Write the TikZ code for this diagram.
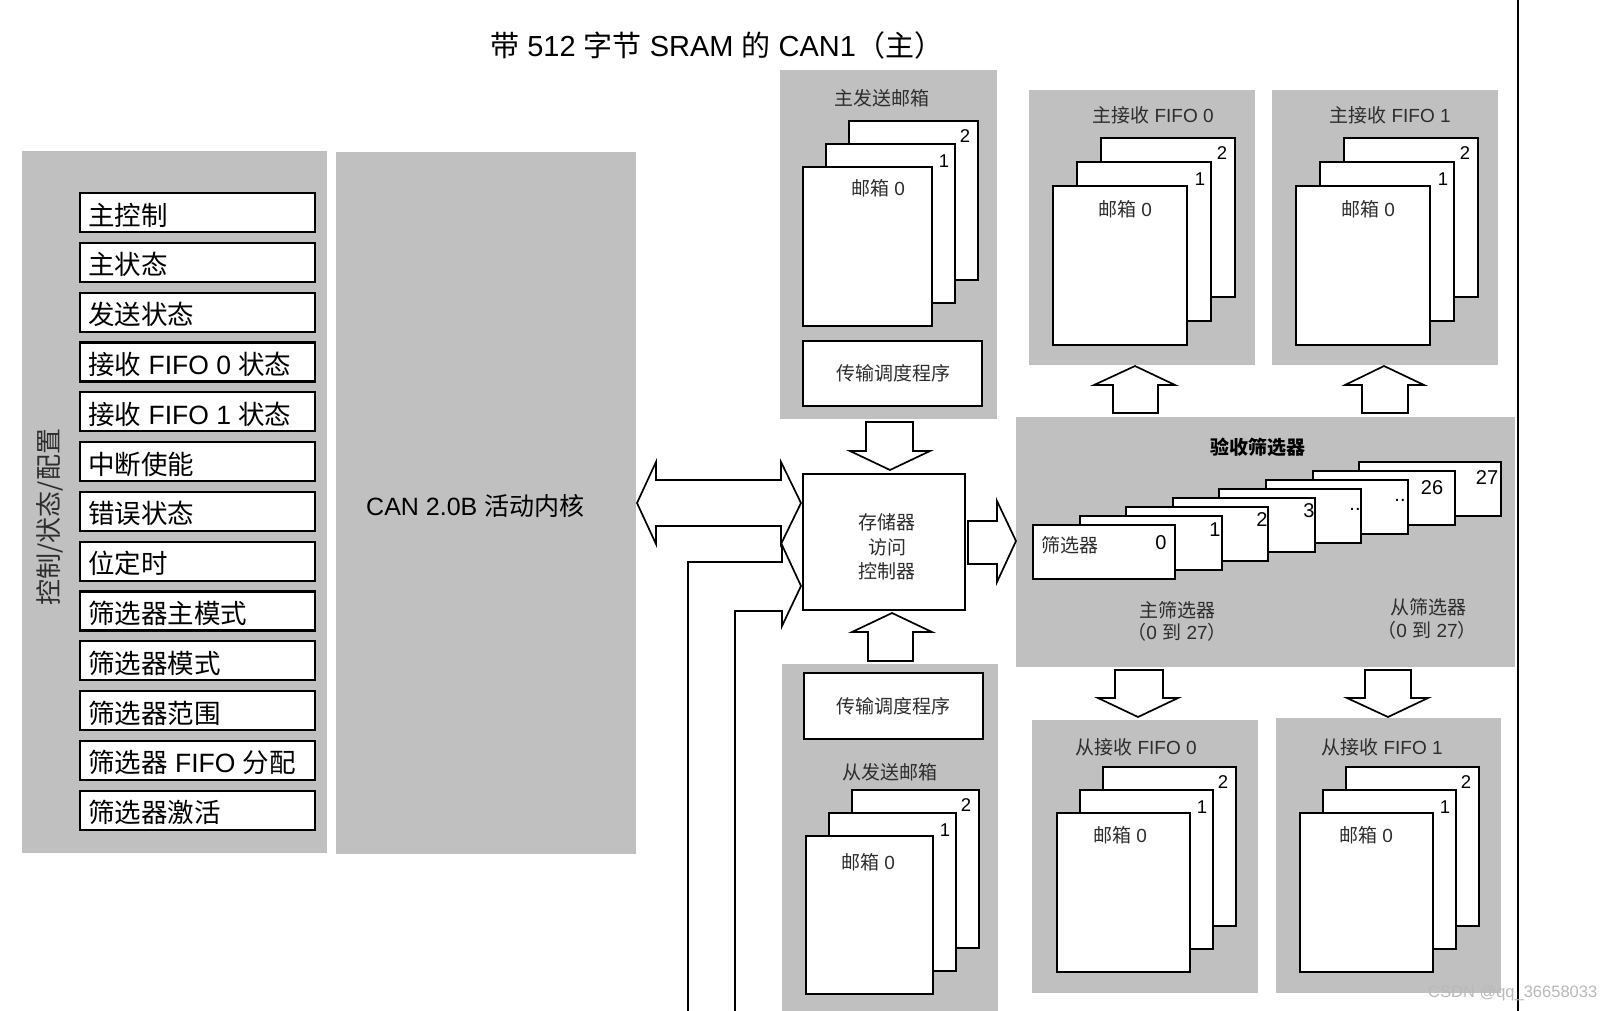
\documentclass[tikz,border=0pt]{standalone}
\usepackage{fontspec}
\setmainfont{Liberation Sans}
\newfontfamily\cjk{Noto Sans CJK SC}
\newcommand\zh[1]{{\cjk #1}}
\newcommand\fs[1]{\fontsize{#1}{#1}\selectfont}
\definecolor{panel}{RGB}{192,192,192}
\definecolor{txt}{RGB}{45,45,45}
\definecolor{wm}{RGB}{185,185,185}

\newcommand\mbstack[8]{%
  \draw[pagebox] (#2+2*#6, #3-2*#6) rectangle ++(#4,#5);
  \draw[pagebox] (#2+#6, #3-#6) rectangle ++(#4,#5);
  \draw[pagebox] (#2,#3) rectangle ++(#4,#5);
  \node[num] (#1-n2) at (#2+2*#6+#4-13, #3-2*#6+15) {2};
  \node[num] (#1-n1) at (#2+#6+#4-11, #3-#6+17) {1};
  \node[lbl] (#1-mb) at (#7,#8) {\zh{邮箱} 0};
}

\begin{document}
\begin{tikzpicture}[x=1pt,y=-1pt,line join=miter,
  panelbox/.style={fill=panel,draw=none},
  regbox/.style={draw=black,line width=2.2pt,fill=white},
  pagebox/.style={draw=black,line width=2pt,fill=white},
  blockarrow/.style={draw=black,line width=1.7pt,fill=white},
  reg/.style={font=\fs{26.5},anchor=base west,inner sep=0},
  lbl/.style={font=\fs{19},text=txt,inner sep=0},
  num/.style={font=\fs{18.5},inner sep=0},
  fnum/.style={font=\fs{20},inner sep=0,anchor=base}]

\useasboundingbox[fill=white] (0,0) rectangle (1613,1011);

% title
\node[font=\fs{29},anchor=base west,inner sep=0] (title) at (490,57)
  {\zh{带} 512 \zh{字节} SRAM \zh{的} CAN1\zh{（主）}};

% left panels
\fill[panelbox] (22,151) rectangle (327,853);
\fill[panelbox] (336,152) rectangle (636,854);
\node[font=\fs{26},rotate=90,text=txt] (cfg) at (50,517) {\zh{控制/状态/配置}};
\foreach \t [count=\i from 0] in {%
  {\zh{主控制}},{\zh{主状态}},{\zh{发送状态}},{\zh{接收} FIFO 0 \zh{状态}},
  {\zh{接收} FIFO 1 \zh{状态}},{\zh{中断使能}},{\zh{错误状态}},{\zh{位定时}},
  {\zh{筛选器主模式}},{\zh{筛选器模式}},{\zh{筛选器范围}},
  {\zh{筛选器} FIFO \zh{分配}},{\zh{筛选器激活}}}{%
  \pgfmathsetmacro\top{193+49.8*\i}
  \draw[regbox] (80,\top) rectangle (315,\top+39);
  \node[reg] (reg\i) at (88,\top+32) {\t};
}
\node[font=\fs{25},anchor=base west,inner sep=0] (core) at (366,515)
  {CAN 2.0B \zh{活动内核}};

% master transmit mailboxes
\fill[panelbox] (780,70) rectangle (997,419);
\node[lbl] (mtxt) at (882,98) {\zh{主发送邮箱}};
\mbstack{mtx}{803}{167}{129}{159}{23}{878}{188}
\draw[pagebox] (803,341) rectangle (982,406);
\node[lbl] (msched) at (893,373) {\zh{传输调度程序}};

% slave transmit mailboxes
\fill[panelbox] (782,664) rectangle (998,1011);
\draw[pagebox] (804,673) rectangle (983,739);
\node[lbl] (ssched) at (893,706) {\zh{传输调度程序}};
\node[lbl] (stxt) at (890,772) {\zh{从发送邮箱}};
\mbstack{stx}{806}{836}{127}{158}{23}{868}{862}

% memory access controller
\draw[pagebox] (803,474) rectangle (965,610);
\node[lbl,align=center,font=\fontsize{19}{24.5}\selectfont] (mac) at (887,547)
  {\zh{存储器}\\\zh{访问}\\\zh{控制器}};

% master receive FIFOs
\fill[panelbox] (1029,90) rectangle (1255,365);
\fill[panelbox] (1272,90) rectangle (1498,365);
\node[lbl] (mf0t) at (1153,115) {\zh{主接收} FIFO 0};
\node[lbl] (mf1t) at (1390,115) {\zh{主接收} FIFO 1};
\mbstack{mf0}{1053}{186}{134}{159}{24}{1125}{209}
\mbstack{mf1}{1296}{186}{134}{159}{24}{1368}{209}

% acceptance filters
\fill[panelbox] (1016,417) rectangle (1515,667);
\node[lbl,font=\fs{19}\cjk\bfseries,text=black] (filt) at (1258,447) {验收筛选器};
\foreach \k in {7,6,...,0}{%
  \draw[pagebox] (1033+46.6*\k,525-9*\k) rectangle ++(142,54);
}
\node[lbl] (f0t) at (1041,545) [anchor=west] {\zh{筛选器}};
\node[fnum] (fl0) at (1161,549) {0};
\node[fnum] (fl1) at (1215,536) {1};
\node[fnum] (fl2) at (1262,526) {2};
\node[fnum] (fl3) at (1309,517) {3};
\node[fnum] (fl4) at (1355,510) {..};
\node[fnum] (fl5) at (1400,501) {..};
\node[fnum] (fl26) at (1432,494) {26};
\node[fnum] (fl27) at (1487,484) {27};
\node[lbl] (mfl) at (1177,610) {\zh{主筛选器}};
\node[lbl] (mflr) at (1177,632) {\zh{（}0 \zh{到} 27\zh{）}};
\node[lbl] (sfl) at (1428,607) {\zh{从筛选器}};
\node[lbl] (sflr) at (1427,630) {\zh{（}0 \zh{到} 27\zh{）}};

% slave receive FIFOs
\fill[panelbox] (1032,720) rectangle (1258,993);
\fill[panelbox] (1276,718) rectangle (1501,993);
\node[lbl] (sf0t) at (1136,747) {\zh{从接收} FIFO 0};
\node[lbl] (sf1t) at (1382,747) {\zh{从接收} FIFO 1};
\mbstack{sf0}{1057}{813}{133}{159}{23}{1120}{835}
\mbstack{sf1}{1300}{813}{133}{159}{23}{1366}{835}

% block arrows
\draw[blockarrow] (637,503) -- (656,462) -- (656,480) -- (781,480) -- (781,462)
  -- (801,503) -- (781,544) -- (781,526) -- (656,526) -- (656,544) -- cycle;
\draw[blockarrow] (688,1011) -- (688,562) -- (782,562) -- (782,545) -- (801,586)
  -- (782,626) -- (782,611) -- (735,611) -- (735,1011);
\draw[blockarrow] (866,422) -- (913,422) -- (913,451) -- (930,451) -- (890,470)
  -- (850,451) -- (866,451) -- cycle;
\draw[blockarrow] (968,521) -- (997,521) -- (997,501) -- (1016,541) -- (997,582)
  -- (997,564) -- (968,564) -- cycle;
\draw[blockarrow] (868,661) -- (868,632) -- (852,632) -- (892,613) -- (932,632)
  -- (913,632) -- (913,661) -- cycle;
\draw[blockarrow] (1113,413) -- (1113,385) -- (1094,385) -- (1135,366) -- (1175,385)
  -- (1158,385) -- (1158,413) -- cycle;
\draw[blockarrow] (1362,413) -- (1362,385) -- (1345,385) -- (1384,366) -- (1424,385)
  -- (1408,385) -- (1408,413) -- cycle;
\draw[blockarrow] (1115,670) -- (1163,670) -- (1163,698) -- (1178,698) -- (1138,717)
  -- (1098,698) -- (1115,698) -- cycle;
\draw[blockarrow] (1365,670) -- (1411,670) -- (1411,698) -- (1428,698) -- (1388,717)
  -- (1347,698) -- (1365,698) -- cycle;

% right border line
\draw[line width=2pt] (1518,0) -- (1518,1011);

% watermark
\node[font=\fs{16.5},text=wm,anchor=west,inner sep=0] (wmk) at (1428,993) {CSDN @qq\_36658033};
\end{tikzpicture}
\end{document}
